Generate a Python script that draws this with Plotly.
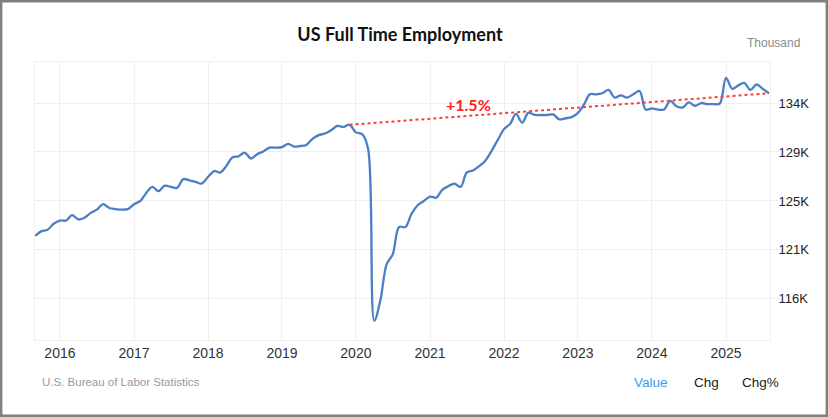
import pandas as pd
import plotly.graph_objects as go

# ---- data (thousands of persons), monthly from Sep 2015 ----
start_month = "2015-09-01"
values = [
    121800, 122200, 122350, 122900,                      # 2015 Sep-Dec
    123200, 123200, 123700, 123300, 123450, 123900,      # 2016
    124200, 124700, 124350, 124250, 124200, 124250,
    124700, 125000, 125700, 126300, 125900, 126400,      # 2017
    126300, 126200, 127000, 126900, 126750, 126600,
    127200, 127750, 127600, 128200, 129000, 129100,      # 2018
    129450, 128900, 129300, 129550, 129900, 129900,
    129950, 130250, 130000, 130050, 130150, 130700,      # 2019
    131050, 131200, 131500, 131900, 131800, 132000,
    131300, 131150, 129800, 114000, 115900, 119200,      # 2020
    120100, 122600, 122600, 123800, 124600, 125000,
    125400, 125300, 126000, 126350, 126600, 126300,      # 2021
    127600, 127800, 128200, 128700, 129600, 130600,
    131600, 132100, 133000, 132200, 133100, 132900,      # 2022
    132900, 132900, 132950, 132500, 132600, 132700,
    133100, 133900, 134800, 134800, 134900, 135200,      # 2023
    134500, 134700, 134500, 134800, 135100, 133400,
    133500, 133400, 133400, 134200, 133700, 133600,      # 2024
    134050, 133750, 134000, 133900, 133900, 133950,
    136300, 135300, 135600, 135850, 135200, 135700,      # 2025
    135300, 134900,
]
trend_label = "+1.5%"
trend_start = "2019-12-01"

ytick_vals = [116000, 120500, 125000, 129500, 134000]
ytick_text = ["116K", "121K", "125K", "129K", "134K"]
xtick_vals = [f"{y}-01-01" for y in range(2016, 2026)]
xtick_text = [str(y) for y in range(2016, 2026)]

title_text = "US Full Time Employment"
unit_text = "Thousand"
source_text = "U.S. Bureau of Labor Statistics"
tabs = ["Value", "Chg", "Chg%"]

dates = pd.date_range(start_month, periods=len(values), freq="MS")
series = pd.Series(values, index=dates)

# ---- layout geometry (pixels) ----
W, H = 828, 417
L, R, T, B = 35, 770, 62, 340
pw, ph = R - L, B - T
px = lambda p: (p - L) / pw
py = lambda p: (B - p) / ph

fig = go.Figure()
fig.add_trace(go.Scatter(
    x=dates, y=values, mode="lines",
    line=dict(color="#4a7fc4", width=2.3, shape="spline", smoothing=1.0),
    hoverinfo="skip", showlegend=False,
))
fig.add_trace(go.Scatter(
    x=[pd.Timestamp(trend_start), dates[-1]],
    y=[series[trend_start], values[-1]],
    mode="lines",
    line=dict(color="#ff3b3b", width=2, dash="dot"),
    hoverinfo="skip", showlegend=False,
))

grid = "#efefef"
fig.update_layout(
    width=W, height=H,
    margin=dict(l=L, r=W - R, t=T, b=H - B, pad=0),
    paper_bgcolor="white", plot_bgcolor="white",
    font=dict(family="Liberation Sans, Arial, sans-serif", color="#333333"),
    title=dict(text=f"<b>{title_text}</b>", xref="container", yref="container",
               x=400 / W, y=1 - 35 / H, xanchor="center", yanchor="middle",
               font=dict(family="Lato, sans-serif", size=18, color="#111111")),
    xaxis=dict(
        range=["2015-08-31", "2025-08-06"],
        tickmode="array", tickvals=xtick_vals, ticktext=xtick_text,
        showgrid=True, gridcolor=grid, gridwidth=1,
        showline=True, linecolor=grid, linewidth=1, mirror=True,
        ticks="", tickfont=dict(size=14, color="#333333"),
        zeroline=False,
    ),
    yaxis=dict(
        range=[112220, 137770], side="right",
        tickmode="array", tickvals=ytick_vals, ticktext=ytick_text,
        showgrid=True, gridcolor=grid, gridwidth=1,
        showline=True, linecolor=grid, linewidth=1, mirror=True,
        ticks="outside", ticklen=8, tickcolor=grid,
        ticklabelstandoff=-3,
        tickfont=dict(size=13, color="#222222"),
        zeroline=False,
    ),
)

ann = [
    dict(text=unit_text, xref="paper", yref="paper", x=px(802), y=py(43),
         xanchor="right", yanchor="middle", showarrow=False,
         font=dict(size=12, color="#8a8a8a")),
    dict(text=f"<b>{trend_label}</b>", xref="x", yref="y",
         x="2021-07-08", y=133840, xanchor="center", yanchor="middle",
         showarrow=False,
         font=dict(family="Lato, sans-serif", size=16, color="#ff2020")),
    dict(text=source_text, xref="paper", yref="paper", x=px(40), y=py(382),
         xanchor="left", yanchor="middle", showarrow=False,
         font=dict(size=11.5, color="#9a9a9a")),
]
tab_centers = [651, 706, 760.5]
tab_colors = ["#3a9cf2", "#222222", "#222222"]
for t, cx, c in zip(tabs, tab_centers, tab_colors):
    ann.append(dict(text=t, xref="paper", yref="paper", x=px(cx), y=py(382.5),
                    xanchor="center", yanchor="middle", showarrow=False,
                    font=dict(size=13.5, color=c)))
fig.update_layout(annotations=ann)

fig.add_shape(type="rect", xref="paper", yref="paper",
              x0=px(1.2), x1=px(826.8), y0=py(415.8), y1=py(1.2),
              line=dict(color="#808080", width=2.4), fillcolor="rgba(0,0,0,0)",
              layer="above")

fig.write_html("out.html",
               config={"displayModeBar": False, "staticPlot": True},
               post_script="document.body.style.margin='0';document.body.style.overflow='hidden';")
